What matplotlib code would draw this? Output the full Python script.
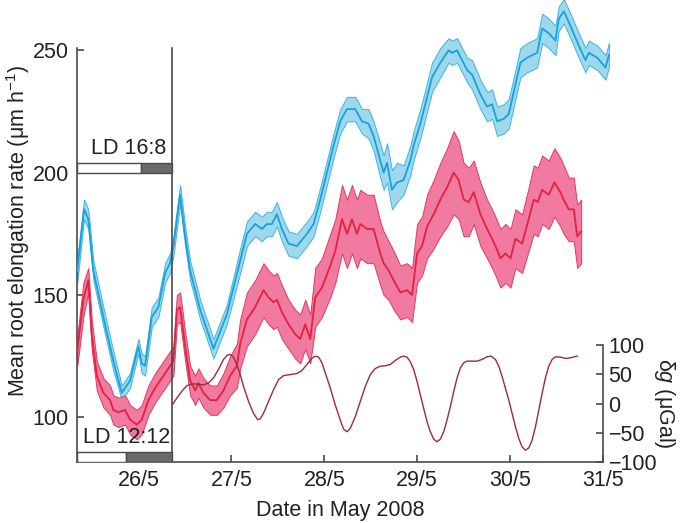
import numpy as np
import matplotlib
matplotlib.use('Agg')
import matplotlib.pyplot as plt
from matplotlib.patches import Rectangle

plt.rcParams['font.family'] = ['Liberation Sans', 'DejaVu Sans']
plt.rcParams['mathtext.fontset'] = 'custom'
plt.rcParams['mathtext.rm'] = 'Liberation Sans'
plt.rcParams['mathtext.it'] = 'Liberation Sans:italic'
plt.rcParams['mathtext.default'] = 'regular'

#%% data (day of May 2008, decimal)
blue_t = [25.340, 25.413, 25.459, 25.513, 25.621, 25.728, 25.819, 25.908, 25.998, 26.034,
          26.070, 26.142, 26.213, 26.286, 26.339, 26.375, 26.447, 26.501, 26.555, 26.663,
          26.806, 26.950, 27.094, 27.166, 27.255, 27.328, 27.381, 27.435, 27.489, 27.543,
          27.614, 27.705, 27.813, 27.884, 27.956, 28.028, 28.099, 28.171, 28.244, 28.333,
          28.405, 28.476, 28.530, 28.602, 28.638, 28.675, 28.728, 28.782, 28.853, 28.926,
          28.961, 29.033, 29.087, 29.159, 29.249, 29.338, 29.375, 29.429, 29.537, 29.591,
          29.680, 29.752, 29.806, 29.860, 29.931, 29.985, 30.057, 30.111, 30.183, 30.291,
          30.345, 30.416, 30.488, 30.524, 30.578, 30.650, 30.739, 30.811, 30.847, 30.938,
          31.027, 31.063]
blue_mean = [160, 185, 181, 160, 141, 123, 110, 115, 129, 122,
             121, 141, 145, 159, 163, 170, 191, 174, 160, 144,
             128, 142, 164, 175, 179, 177, 179, 179, 183, 177,
             171, 170, 175, 179, 189, 200, 211, 221, 226, 226,
             221, 220, 215, 205, 200, 204, 193, 196, 197, 205,
             211, 220, 228, 239, 245, 250, 249, 250, 242, 240,
             232, 227, 228, 221, 222, 224, 236, 245, 247, 249,
             259, 257, 254, 263, 266, 260, 252, 246, 249, 247,
             243, 248]
blue_err = [5, 4, 4, 4, 4, 4, 3, 3, 3, 4,
            4, 4, 4, 4, 4, 4, 4, 4, 4, 4,
            4, 4, 5, 5, 5, 5, 5, 5, 5, 5,
            5, 5, 5, 5, 5, 5, 5, 5, 5, 5,
            5, 6, 6, 7, 7, 8, 8, 8, 6, 6,
            6, 6, 6, 6, 6, 5, 5, 5, 5, 6,
            6, 6, 6, 6, 6, 6, 6, 6, 6, 6,
            6, 6, 6, 5, 5, 5, 5, 5, 5, 5,
            5, 5]

red_t = [25.340, 25.405, 25.459, 25.495, 25.550, 25.621, 25.693, 25.728, 25.782, 25.855,
         25.908, 25.981, 26.034, 26.106, 26.178, 26.232, 26.286, 26.339, 26.375, 26.412,
         26.447, 26.501, 26.555, 26.609, 26.644, 26.698, 26.770, 26.843, 26.914, 26.986,
         27.058, 27.094, 27.166, 27.255, 27.345, 27.399, 27.453, 27.489, 27.543, 27.614,
         27.686, 27.740, 27.794, 27.848, 27.902, 27.974, 28.064, 28.118, 28.190, 28.244,
         28.297, 28.351, 28.387, 28.459, 28.530, 28.602, 28.638, 28.692, 28.746, 28.818,
         28.890, 28.944, 28.998, 29.052, 29.106, 29.177, 29.249, 29.321, 29.392, 29.446,
         29.500, 29.554, 29.608, 29.680, 29.752, 29.806, 29.842, 29.896, 29.950, 30.004,
         30.057, 30.129, 30.200, 30.254, 30.297, 30.345, 30.416, 30.477, 30.541, 30.576,
         30.631, 30.685, 30.722, 30.765]
red_mean = [127, 148, 156, 134, 117, 110, 107, 103, 102, 103,
            99, 97, 99, 107, 112, 115, 118, 121, 123, 144,
            145, 129, 115, 111, 114, 110, 107, 107, 111, 117,
            121, 130, 140, 145, 152, 149, 147, 148, 143, 138,
            134, 132, 138, 132, 149, 153, 162, 168, 181, 175,
            181, 175, 179, 177, 177, 167, 163, 160, 156, 151,
            152, 150, 167, 170, 178, 183, 189, 194, 200, 197,
            189, 188, 192, 183, 177, 173, 170, 165, 167, 165,
            173, 171, 181, 189, 188, 193, 191, 196, 192, 189,
            185, 185, 174, 176]
red_err = [6, 7, 5, 6, 6, 6, 6, 6, 6, 6,
           6, 6, 6, 6, 6, 6, 6, 6, 6, 6,
           6, 6, 6, 6, 6, 6, 6, 6, 7, 8,
           9, 10, 11, 11, 11, 11, 11, 11, 11, 10,
           10, 10, 10, 10, 12, 12, 13, 13, 14, 14,
           14, 14, 14, 14, 14, 13, 13, 12, 12, 11,
           11, 11, 12, 12, 13, 14, 15, 16, 17, 16,
           15, 14, 13, 13, 12, 12, 12, 12, 12, 12,
           12, 12, 13, 14, 14, 14, 14, 14, 14, 14,
           13, 13, 13, 13]

grav_t = [26.368, 26.411, 26.465, 26.519, 26.573, 26.627, 26.699, 26.752, 26.806, 26.860,
          26.914, 26.957, 26.986, 27.022, 27.058, 27.094, 27.130, 27.184, 27.237, 27.281,
          27.309, 27.345, 27.399, 27.453, 27.507, 27.561, 27.633, 27.704, 27.758, 27.812,
          27.866, 27.902, 27.938, 27.974, 28.010, 28.064, 28.117, 28.171, 28.207, 28.243,
          28.279, 28.333, 28.387, 28.441, 28.495, 28.548, 28.602, 28.656, 28.710, 28.764,
          28.818, 28.854, 28.890, 28.926, 28.962, 28.998, 29.033, 29.069, 29.105, 29.141,
          29.177, 29.213, 29.249, 29.285, 29.321, 29.357, 29.393, 29.429, 29.465, 29.500,
          29.536, 29.590, 29.644, 29.698, 29.752, 29.795, 29.842, 29.878, 29.913, 29.949,
          29.985, 30.021, 30.057, 30.093, 30.129, 30.165, 30.201, 30.237, 30.273, 30.309,
          30.345, 30.380, 30.416, 30.452, 30.488, 30.542, 30.596, 30.650, 30.722]
grav_val = [-1.1, 9.2, 20.7, 30.5, 33.3, 33.3, 31.6, 35.1, 43.7, 58.1,
            75.3, 82.8, 83.9, 79.3, 66.7, 49.4, 29.3, 3.5, -16.7, -27.6,
            -26.4, -16.7, 3.5, 23.6, 40.8, 47.7, 49.4, 51.2, 56.3, 66.7,
            77.0, 81.0, 79.3, 69.5, 52.3, 26.4, -2.3, -28.2, -43.7, -48.3,
            -42.5, -22.4, 3.5, 29.3, 49.4, 59.8, 63.8, 64.5, 66.7, 73.6,
            79.3, 81.0, 79.3, 71.3, 58.1, 37.9, 14.9, -8.0, -31.0, -48.3,
            -60.9, -65.5, -60.9, -48.3, -28.2, -5.2, 20.7, 43.7, 60.9, 69.5,
            72.4, 72.4, 72.4, 75.3, 79.9, 81.0, 75.3, 63.8, 46.6, 26.4,
            6.3, -16.7, -39.6, -59.8, -74.1, -79.9, -75.9, -62.6, -39.6, -10.9,
            17.8, 43.7, 63.8, 75.3, 79.9, 79.3, 77.0, 78.2, 81.0]

day_ticks = [26, 27, 28, 29, 30, 31]
day_labels = ['26/5', '27/5', '28/5', '29/5', '30/5', '31/5']

#%% plot
fig = plt.figure(figsize=(6.82, 5.23), dpi=100)
ax = fig.add_axes([77 / 682, 1 - 462 / 523, 526 / 682, 462 / 523])
x0, x1 = 25.337, 31.0
y0, y1 = 81.7, 270.6
ax.set_xlim(x0, x1)
ax.set_ylim(y0, y1)

bt = np.array(blue_t)
bm = np.array(blue_mean)
be = np.array(blue_err)
rt = np.array(red_t)
rm = np.array(red_mean)
re = np.array(red_err)

ax.fill_between(bt, bm - be, bm + be, facecolor='#9fd8ec', edgecolor='#3cb4e2',
                linewidth=0.7, clip_on=False, zorder=2)
ax.plot(bt, bm, color='#16a2dc', lw=1.3, clip_on=False, zorder=3)
ax.fill_between(rt, rm - re, rm + re, facecolor='#f17aa1', edgecolor='#e23a5c',
                linewidth=0.7, zorder=2)
ax.plot(rt, rm, color='#e4223f', lw=1.3, zorder=3)

spine_c = '#4a4a4a'
for s in ['top', 'right']:
    ax.spines[s].set_visible(False)
for s in ['left', 'bottom']:
    ax.spines[s].set_color(spine_c)
    ax.spines[s].set_linewidth(1.2)
ax.spines['left'].set_bounds(y0, 251)

# light regime panel
split = 26.36
ax.plot([split, split], [y0, 251], color=spine_c, lw=1.2, zorder=4)
ax.add_patch(Rectangle((x0, 200), 26.03 - x0, 4.1, facecolor='white', edgecolor=spine_c, lw=1.0, zorder=4))
ax.add_patch(Rectangle((26.03, 200), split - 26.03, 4.1, facecolor='#6a6a6a', edgecolor=spine_c, lw=1.0, zorder=4))
ax.add_patch(Rectangle((x0, y0), 25.86 - x0, 4.1, facecolor='white', edgecolor=spine_c, lw=1.0, zorder=4))
ax.add_patch(Rectangle((25.86, y0), split - 25.86, 4.1, facecolor='#6a6a6a', edgecolor=spine_c, lw=1.0, zorder=4))
ax.text(split - 0.06, 205.5, 'LD 16:8', ha='right', va='bottom', fontsize=15.5, color='#222222', zorder=5)
ax.text(split - 0.02, 87.5, 'LD 12:12', ha='right', va='bottom', fontsize=15.5, color='#222222', zorder=5)

ax.set_xticks(day_ticks)
ax.set_xticklabels(day_labels)
ax.set_yticks([100, 150, 200, 250])
ax.tick_params(direction='in', length=5, width=1.2, color=spine_c, labelsize=15.5,
               labelcolor='#222222', pad=6)
ax.set_xlabel('Date in May 2008', fontsize=15.5, color='#222222', labelpad=6)
ax.set_ylabel('Mean root elongation rate (μm h$^{-1}$)', fontsize=15.5, color='#222222', labelpad=0)

# gravity axis
ax2 = fig.add_axes([77 / 682, 1 - 462 / 523, 526 / 682, 117 / 523])
ax2.patch.set_visible(False)
ax2.set_xlim(x0, x1)
ax2.set_ylim(-100, 100)
ax2.plot(grav_t, grav_val, color='#a2283c', lw=1.0)
for s in ['top', 'left', 'bottom']:
    ax2.spines[s].set_visible(False)
ax2.spines['right'].set_color(spine_c)
ax2.spines['right'].set_linewidth(1.2)
ax2.xaxis.set_visible(False)
ax2.yaxis.tick_right()
ax2.yaxis.set_label_position('right')
ax2.set_yticks([-100, -50, 0, 50, 100])
ax2.set_yticklabels(['\u2212100', '\u221250', '0', '50', '100'])
ax2.tick_params(direction='in', length=5, width=1.2, color=spine_c, labelsize=15.5,
                labelcolor='#222222', pad=4)
ax2.set_ylabel('δ$\\mathit{g}$ (μGal)', fontsize=15.5, color='#222222', rotation=270,
               labelpad=14)

plt.savefig('out.png', dpi=100)
